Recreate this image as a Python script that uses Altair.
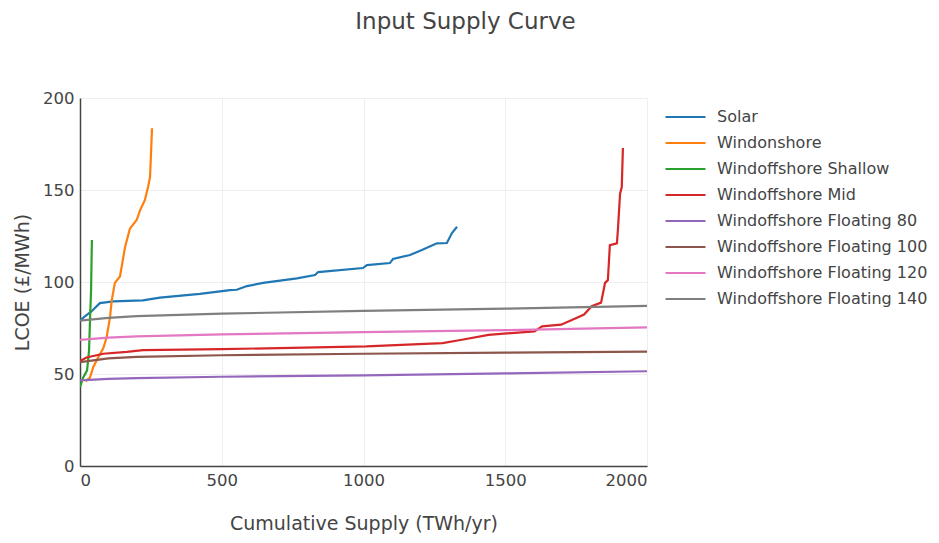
import altair as alt
import pandas as pd

series_names = [
    "Solar", "Windonshore", "Windoffshore Shallow", "Windoffshore Mid",
    "Windoffshore Floating 80", "Windoffshore Floating 100",
    "Windoffshore Floating 120", "Windoffshore Floating 140",
]
series_colors = ["#1f77b4", "#ff7f0e", "#2ca02c", "#d62728",
                 "#9467bd", "#8c564b", "#e377c2", "#7f7f7f"]

solar_x = [0, 15, 40, 70, 117, 222, 282, 423, 529, 553, 589, 646, 765, 829, 840,
           998, 1012, 1093, 1104, 1164, 1206, 1259, 1294, 1312, 1330]
solar_y = [79, 81, 84, 88.5, 89.5, 90, 91.5, 93.5, 95.6, 95.8, 97.8, 99.5, 102, 103.8, 105.4,
           107.6, 109.2, 110.3, 112.5, 114.7, 117.4, 121, 121.2, 126.6, 130]

onshore_x = [20, 35, 47, 63, 82, 94, 106, 112, 123, 141, 159, 176, 200, 212, 229, 240, 247, 250, 254]
onshore_y = [46, 48, 53.8, 58.7, 64, 70, 81, 90, 99.5, 103, 119, 129, 133.7, 139, 144.6, 151.6, 157, 168, 183.6]

shallow_x = [0, 11, 25, 32, 35, 39, 42]
shallow_y = [43, 48, 52, 63, 77.7, 95.6, 122.8]

mid_x = [0, 23, 82, 165, 222, 498, 1010, 1279, 1347, 1441, 1603, 1630, 1697, 1737, 1778,
         1805, 1838, 1852, 1862, 1869, 1894, 1898, 1905, 1911, 1915]
mid_y = [57, 59, 61, 62, 63, 63.5, 65, 66.8, 68.6, 71.3, 73.2, 75.9, 76.8, 79.5, 82.3,
         86.8, 88.8, 99.5, 101, 120, 121, 130, 148, 151.6, 172.8]

f80_x = [0, 100, 200, 500, 1000, 1500, 2000]
f80_y = [46.5, 47.3, 47.8, 48.5, 49.3, 50.3, 51.5]

f100_x = [0, 100, 200, 500, 1000, 1500, 2000]
f100_y = [56.5, 58.5, 59.3, 60.2, 61, 61.6, 62.2]

f120_x = [0, 100, 200, 500, 1000, 1500, 2000]
f120_y = [68.5, 69.8, 70.5, 71.5, 72.8, 73.8, 75.3]

f140_x = [0, 100, 200, 500, 1000, 1500, 2000]
f140_y = [79, 80.5, 81.5, 82.8, 84.3, 85.5, 87]

all_x = [solar_x, onshore_x, shallow_x, mid_x, f80_x, f100_x, f120_x, f140_x]
all_y = [solar_y, onshore_y, shallow_y, mid_y, f80_y, f100_y, f120_y, f140_y]

rows = []
for name, xs, ys in zip(series_names, all_x, all_y):
    for i, (x, y) in enumerate(zip(xs, ys)):
        rows.append({"series": name, "supply": x, "lcoe": y, "order": i})
df = pd.DataFrame(rows)

FONT = "DejaVu Sans"
TXT = "#444444"

chart = alt.Chart(df).mark_line(strokeWidth=2.2, clip=True).encode(
    x=alt.X("supply:Q", title="Cumulative Supply (TWh/yr)",
            scale=alt.Scale(domain=[0, 2000], nice=False),
            axis=alt.Axis(values=[0, 500, 1000, 1500, 2000], format="d", titlePadding=26)),
    y=alt.Y("lcoe:Q", title="LCOE (£/MWh)",
            scale=alt.Scale(domain=[0, 200], nice=False),
            axis=alt.Axis(values=[0, 50, 100, 150, 200], format="d", titlePadding=10)),
    color=alt.Color("series:N", sort=series_names,
                    scale=alt.Scale(domain=series_names, range=series_colors),
                    legend=alt.Legend(title=None, orient="none", legendX=584, legendY=6,
                                      symbolType="stroke", symbolSize=1600,
                                      symbolStrokeWidth=2.2, rowPadding=0, clipHeight=26,
                                      labelFontSize=16, labelColor=TXT, labelFont=FONT,
                                      labelOffset=10, labelLimit=400)),
    order="order:Q",
    detail="series:N",
).properties(
    width=567, height=368,
    background="white",
    title=alt.TitleParams("Input Supply Curve", fontSize=23, font=FONT, color=TXT,
                          fontWeight="normal", anchor="middle", dx=102, offset=56),
    autosize=alt.AutoSizeParams(type="none"),
    padding={"left": 72, "top": 90, "right": 284, "bottom": 71},
).configure_view(stroke=None).configure_axis(
    domainColor="#444444", domainWidth=1.5, ticks=False, labelPadding=6,
    gridColor="#eeeeee", labelFontSize=16.5, labelColor=TXT, labelFont=FONT,
    titleFontSize=19, titleColor=TXT, titleFont=FONT, titleFontWeight="normal",
)

chart.save("out.html", embed_options={"renderer": "svg", "actions": False})
